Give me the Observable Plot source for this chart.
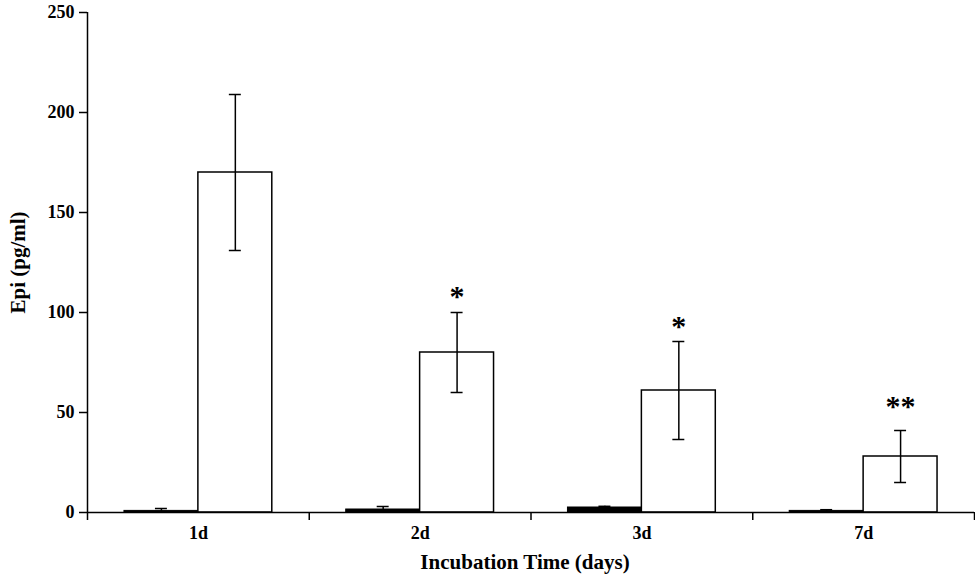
<!DOCTYPE html>
<html>
<head>
<meta charset="utf-8">
<script src="https://cdn.jsdelivr.net/npm/d3@7"></script>
<script src="https://cdn.jsdelivr.net/npm/@observablehq/plot@0.6"></script>
<style>
  html, body { margin: 0; padding: 0; background: #fff; }
</style>
</head>
<body>
<div id="chart"></div>
<script>
const days = ["1d", "2d", "3d", "7d"];
const controlMean = [0.8, 1.5, 2.5, 0.8];
const controlErr = [1.2, 1.5, 0.6, 0.6];
const treatedMean = [170, 80, 61, 28];
const treatedErr = [39, 20, 24.5, 13];
const sigLabels = ["", "*", "*", "**"];
const sigY = [null, 112, 97, 57];
const yTicks = [0, 50, 100, 150, 200, 250];

const control = days.map((d, i) => ({i, day: d, mean: controlMean[i], err: controlErr[i], x1: i + 1/6, x2: i + 1/2, c: i + 1/3}));
const treated = days.map((d, i) => ({i, day: d, mean: treatedMean[i], err: treatedErr[i], x1: i + 1/2, x2: i + 5/6, c: i + 2/3}));
const all = control.concat(treated);
const sig = days.map((d, i) => ({label: sigLabels[i], y: sigY[i], c: i + 2/3})).filter(d => d.label);
const capHalf = 0.027;

const chart = Plot.plot({
  width: 975,
  height: 587,
  marginLeft: 87,
  marginRight: 1,
  marginTop: 12,
  marginBottom: 75,
  style: {fontFamily: "'Liberation Serif', 'Times New Roman', serif", fontSize: "18px", fontWeight: "bold", color: "black", background: "white"},
  x: {domain: [0, 4], axis: null},
  y: {domain: [0, 250], axis: null},
  marks: [
    Plot.rectY(control, {x1: "x1", x2: "x2", y: "mean", fill: "black", stroke: "black", strokeWidth: 1}),
    Plot.rectY(treated, {x1: "x1", x2: "x2", y: "mean", fill: "white", stroke: "black", strokeWidth: 1.5}),
    Plot.ruleX(all, {x: "c", y1: d => Math.max(0, d.mean - d.err), y2: d => d.mean + d.err, stroke: "black", strokeWidth: 1.5}),
    Plot.ruleY(all, {y: d => d.mean + d.err, x1: d => d.c - capHalf, x2: d => d.c + capHalf, stroke: "black", strokeWidth: 1.5}),
    Plot.ruleY(treated, {y: d => d.mean - d.err, x1: d => d.c - capHalf, x2: d => d.c + capHalf, stroke: "black", strokeWidth: 1.5}),
    Plot.ruleX([0], {y1: 0, y2: 250, stroke: "black", strokeWidth: 1.5}),
    Plot.ruleY([0], {stroke: "black", strokeWidth: 1.5}),
    Plot.axisY({ticks: yTicks, tickSize: 8, tickPadding: 5, tickFormat: d => String(d), strokeWidth: 1.5, fontSize: 18, fontWeight: "bold"}),
    Plot.axisX({ticks: [0, 1, 2, 3, 4], tickSize: 8, tickFormat: () => "", strokeWidth: 1.5}),
    Plot.axisX({ticks: days.map((d, i) => i + 0.5), tickSize: 0, tickPadding: 14, tickFormat: d => days[Math.floor(d)], fontSize: 18, fontWeight: "bold"}),
    Plot.text(sig, {x: "c", y: "y", text: "label", fontSize: 30, fontWeight: "bold", lineAnchor: "middle", dy: 8}),
    Plot.text(["Epi (pg/ml)"], {frameAnchor: "left", textAnchor: "middle", rotate: -90, dx: -69, fontSize: 21, fontWeight: "bold", lineAnchor: "middle"}),
    Plot.text(["Incubation Time (days)"], {frameAnchor: "bottom", textAnchor: "middle", dy: 50, dx: -6, fontSize: 21, fontWeight: "bold", lineAnchor: "middle"})
  ]
});
document.getElementById("chart").appendChild(chart);
</script>
</body>
</html>
